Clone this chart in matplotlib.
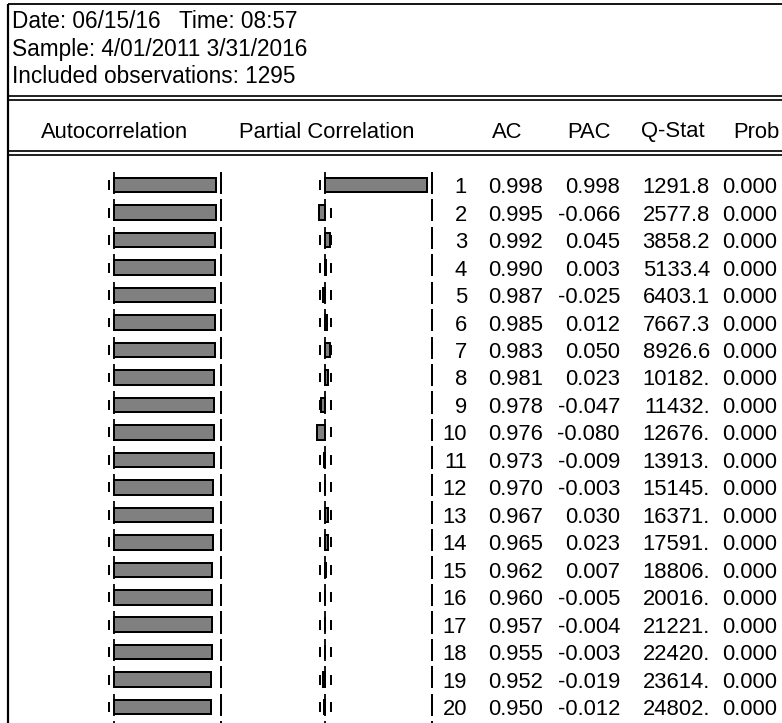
import numpy as np
import matplotlib
matplotlib.use("Agg")
import matplotlib.pyplot as plt

# ---- correlogram data -------------------------------------------------
lags = list(range(1, 21))
ac = [0.998, 0.995, 0.992, 0.990, 0.987, 0.985, 0.983, 0.981, 0.978, 0.976,
      0.973, 0.970, 0.967, 0.965, 0.962, 0.960, 0.957, 0.955, 0.952, 0.950]
pac = [0.998, -0.066, 0.045, 0.003, -0.025, 0.012, 0.050, 0.023, -0.047, -0.080,
       -0.009, -0.003, 0.030, 0.023, 0.007, -0.005, -0.004, -0.003, -0.019, -0.012]
qstat = [1291.8, 2577.8, 3858.2, 5133.4, 6403.1, 7667.3, 8926.6, 10182., 11432., 12676.,
         13913., 15145., 16371., 17591., 18806., 20016., 21221., 22420., 23614., 24802.]
prob = [0.000] * 20
n_obs = 1295
header_lines = ["Date: 06/15/16   Time: 08:57",
                "Sample: 4/01/2011 3/31/2016",
                "Included observations: 1295"]
col_titles = ["Autocorrelation", "Partial Correlation", "AC", "PAC", "Q-Stat", "Prob"]

# ---- page geometry (pixels) ------------------------------------------
W, H = 782, 723
DPI = 100
PX = 72.0 / DPI          # one pixel in points
row1_y = 185.2           # centre of the first lag row
pitch = 27.47            # row spacing
unit = 102.0             # pixels per unit of correlation
ac_zero, pac_zero = 114.3, 325.3
FS = 15.8
FS_HEAD = 16.3
FONT = "Liberation Sans"

fig = plt.figure(figsize=(W / DPI, H / DPI), dpi=DPI)
fig.patch.set_facecolor("white")

# layout axes in pixel units
frame = fig.add_axes([0, 0, 1, 1])
frame.set_xlim(0, W)
frame.set_ylim(H, 0)
frame.axis("off")


def bar_axes(zero_px):
    ax = fig.add_axes([0, 0, 1, 1])
    ax.set_xlim(-zero_px / unit, (W - zero_px) / unit)
    ax.set_ylim(1 + (H - row1_y) / pitch, 1 - row1_y / pitch)
    ax.axis("off")
    ax.patch.set_alpha(0)
    return ax


ax_ac = bar_axes(ac_zero)
ax_pac = bar_axes(pac_zero)

band = 2.0 / np.sqrt(n_obs)
edge_x = 1.046
seg_rows = np.arange(1, 22)

for ax, vals in ((ax_ac, ac), (ax_pac, pac)):
    # zero axis and column edge, drawn row by row
    ax.vlines([0] * len(seg_rows), seg_rows - 0.49, seg_rows + 0.32,
              colors="black", lw=1.8 * PX)
    ax.vlines([edge_x] * len(seg_rows), seg_rows - 0.49, seg_rows + 0.32,
              colors="black", lw=2.0 * PX)
    # two-standard-error markers
    for s in (-band, band):
        ax.vlines([s] * len(lags), np.array(lags) - 0.18, np.array(lags) + 0.18,
                  colors="black", lw=2.0 * PX, zorder=1)
    ax.barh(lags, vals, height=0.53, left=0, color="#808080",
            edgecolor="black", linewidth=2.0 * PX, zorder=3)

# frame rules
frame.plot([8, W], [4.3, 4.3], color="black", lw=1.8 * PX, solid_capstyle="butt")
frame.plot([8.3, 8.3], [3.5, H], color="black", lw=2.2 * PX, solid_capstyle="butt")
for y in (95.8, 99.8, 150.8, 154.8):
    frame.plot([8, W], [y, y], color="black", lw=1.7 * PX, solid_capstyle="butt")

# header block
for i, line in enumerate(header_lines):
    frame.text(12, 28.3 + i * 27.5, line, fontsize=FS_HEAD, family=FONT,
               ha="left", va="baseline")

title_x = [ac_zero, pac_zero + 1, 507, 589, 672.5, 756]
for x, t in zip(title_x, col_titles):
    frame.text(x, 137.5, t, fontsize=FS, family=FONT, ha="center", va="baseline")

# numeric table
for k, lag in enumerate(lags):
    yb = row1_y + k * pitch + 8.0
    frame.text(467, yb, f"{lag}", fontsize=FS, family=FONT, ha="right", va="baseline")
    frame.text(543, yb, f"{ac[k]:.3f}", fontsize=FS, family=FONT, ha="right", va="baseline")
    frame.text(620, yb, f"{pac[k]:.3f}", fontsize=FS, family=FONT, ha="right", va="baseline")
    frame.text(710, yb, f"{qstat[k]:.1f}"[:6], fontsize=FS, family=FONT, ha="right", va="baseline")
    frame.text(722, yb, f"{prob[k]:.3f}", fontsize=FS, family=FONT, ha="left", va="baseline")

fig.savefig("out.png", dpi=DPI)
